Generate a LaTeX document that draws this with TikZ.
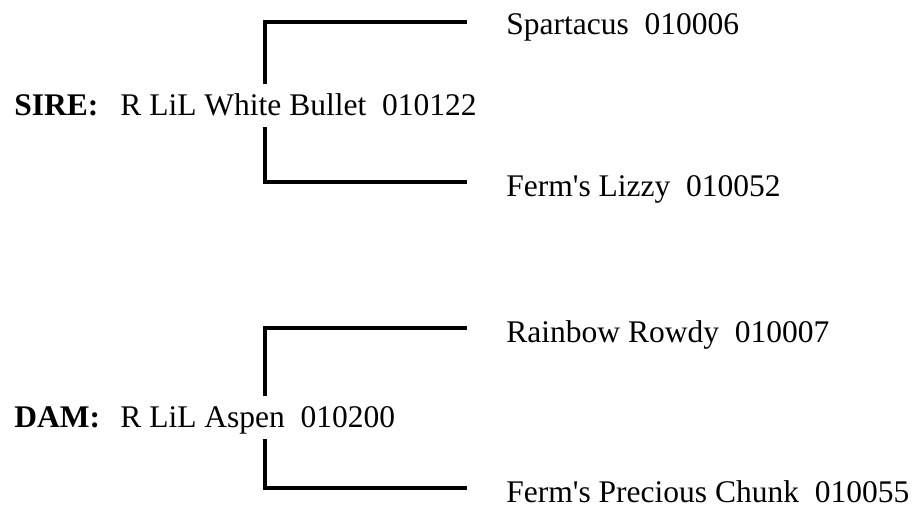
\documentclass[tikz,border=0pt]{standalone}
\usepackage{fontspec}
\setmainfont{Liberation Serif}
\begin{document}
\begin{tikzpicture}[x=0.5pt, y=-0.5pt,
        every node/.style={font=\fontsize{15.75pt}{19pt}\selectfont},
        labelnode/.style={anchor=base west, inner sep=0pt, font=\fontsize{15.75pt}{19pt}\selectfont\bfseries},
        namenode/.style={anchor=base west, inner xsep=0pt, inner ysep=1.5pt, text height=14.25pt, text depth=4pt},
        parentnode/.style={anchor=base west, inner sep=0pt},
        bracket/.style={line width=2pt},
        ]
        \useasboundingbox (0,0) rectangle (916,506);

        % Sire
        \node[labelnode] (sirelab) at (14,116) {SIRE:};
        \node[namenode] (sire) at (120,116) {R LiL White Bullet~~010122};
        \node[parentnode] (s1) at (506,35) {Spartacus~~010006};
        \node[parentnode] (s2) at (506,197) {Ferm\textquotesingle s Lizzy~~010052};

        % Dam
        \node[labelnode] (damlab) at (14,428) {DAM:};
        \node[namenode] (dam) at (120,428) {R LiL Aspen~~010200};
        \node[parentnode] (d1) at (506,343) {Rainbow Rowdy~~010007};
        \node[parentnode] (d2) at (506,503) {Ferm\textquotesingle s Precious Chunk~~010055};

        % Brackets
        \coordinate (bx) at (265,0);
        \draw[bracket] (sire.north -| bx) |- ([shift={(-39,-13)}]s1.base west);
        \draw[bracket] (sire.south -| bx) |- ([shift={(-39,-15)}]s2.base west);
        \draw[bracket] (dam.north -| bx) |- ([shift={(-39,-15)}]d1.base west);
        \draw[bracket] (dam.south -| bx) |- ([shift={(-39,-15)}]d2.base west);

\end{tikzpicture}
\end{document}
